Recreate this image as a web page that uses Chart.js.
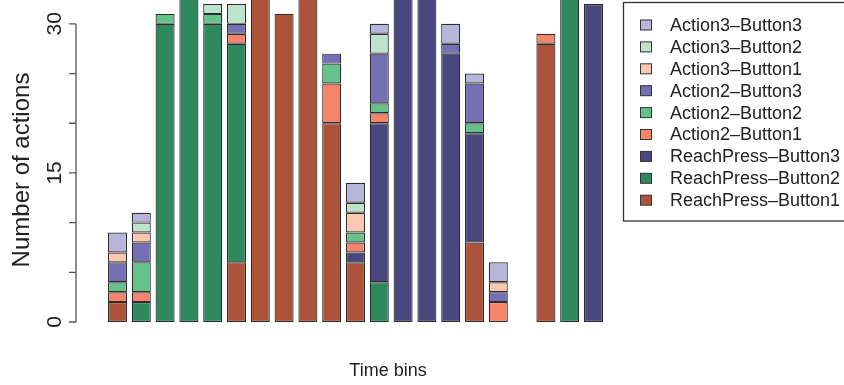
<!DOCTYPE html>
<html>
<head>
<meta charset="utf-8">
<title>Actions per time bin</title>
<script src="https://cdn.jsdelivr.net/npm/chart.js@4.4.1/dist/chart.umd.min.js"></script>
<style>
  html, body { margin: 0; padding: 0; background: #fff; }
  #wrap { width: 844px; height: 385px; position: relative; }
</style>
</head>
<body>
<div id="wrap"><canvas id="chart" width="844" height="385"></canvas></div>
<script>
"use strict";

// Time bins (bin 18 has no actions at all)
const timeBins = ["1", "2", "3", "4", "5", "6", "7", "8", "9", "10", "11",
  "12", "13", "14", "15", "16", "17", "18", "19", "20", "21"];

// counts per bin, stacked bottom -> top
const reachPressB1 = [2, 0, 0, 0, 0, 6, 38, 31, 35, 20, 6, 0, 0, 0, 0, 8, 0, 0, 28, 0, 0];
const reachPressB2 = [0, 2, 30, 36, 30, 22, 0, 0, 0, 0, 0, 4, 0, 0, 0, 0, 0, 0, 0, 36, 0];
const reachPressB3 = [0, 0, 0, 0, 0, 0, 0, 0, 0, 0, 1, 16, 37, 34, 27, 11, 0, 0, 0, 0, 32];
const action2B1 = [1, 1, 0, 0, 0, 1, 0, 0, 0, 4, 1, 1, 0, 0, 0, 0, 2, 0, 1, 0, 0];
const action2B2 = [1, 3, 1, 0, 1, 0, 0, 0, 0, 2, 1, 1, 0, 0, 0, 1, 0, 0, 0, 0, 0];
const action2B3 = [2, 2, 0, 0, 0, 1, 0, 0, 0, 1, 0, 5, 0, 0, 1, 4, 1, 0, 0, 0, 0];
const action3B1 = [1, 1, 0, 0, 0, 0, 0, 0, 0, 0, 2, 0, 0, 0, 0, 0, 1, 0, 0, 0, 0];
const action3B2 = [0, 1, 0, 0, 1, 2, 0, 0, 0, 0, 1, 2, 0, 0, 0, 0, 0, 0, 0, 0, 0];
const action3B3 = [2, 1, 0, 0, 0, 0, 0, 0, 0, 0, 2, 1, 0, 0, 2, 1, 2, 0, 0, 0, 0];

const seriesNames = [
  "ReachPress–Button1", "ReachPress–Button2", "ReachPress–Button3",
  "Action2–Button1", "Action2–Button2", "Action2–Button3",
  "Action3–Button1", "Action3–Button2", "Action3–Button3",
];
const seriesValues = [reachPressB1, reachPressB2, reachPressB3,
  action2B1, action2B2, action2B3, action3B1, action3B2, action3B3];

const yTicks = [0, 5, 10, 15, 20, 25, 30];
const yTickLabels = ["0", "", "", "15", "", "", "30"];

const COLORS = ["#AD533C", "#2E8A5E", "#4A477F", "#F5846A", "#64C28B",
  "#7570B3", "#FDC6B0", "#BEE3CC", "#B8B5DA"];
const FONT = '"Liberation Sans", Arial, Helvetica, sans-serif';
const INK = "#222";

function drawRotated(ctx, text, x, y, size) {
  ctx.save();
  ctx.translate(x, y);
  ctx.rotate(-Math.PI / 2);
  ctx.font = `${size}px ${FONT}`;
  ctx.textAlign = "center";
  ctx.textBaseline = "middle";
  ctx.fillText(text, 0, 0);
  ctx.restore();
}

// R-style axis: line only spans the tick range
const axisPlugin = {
  id: "rAxis",
  afterDraw(chart) {
    const { ctx, scales: { y } } = chart;
    const axisX = 76;
    ctx.save();
    ctx.strokeStyle = "#555";
    ctx.lineWidth = 1.3;
    ctx.beginPath();
    ctx.moveTo(axisX, y.getPixelForValue(yTicks[0]));
    ctx.lineTo(axisX, y.getPixelForValue(yTicks[yTicks.length - 1]));
    yTicks.forEach((t) => {
      const py = y.getPixelForValue(t);
      ctx.moveTo(axisX, py);
      ctx.lineTo(axisX - 7, py);
    });
    ctx.stroke();
    ctx.fillStyle = INK;
    yTicks.forEach((t, i) => {
      if (yTickLabels[i]) drawRotated(ctx, yTickLabels[i], 55.5, y.getPixelForValue(t), 21);
    });
    drawRotated(ctx, "Number of actions", 22.5, 170, 24);
    ctx.font = `18px ${FONT}`;
    ctx.textAlign = "center";
    ctx.textBaseline = "middle";
    ctx.fillText("Time bins", 388, 371);
    ctx.restore();
  },
};

// boxed legend, top entry = top of the stack
const legendPlugin = {
  id: "rLegend",
  afterDraw(chart) {
    const { ctx } = chart;
    const sets = chart.data.datasets.slice().reverse();
    ctx.save();
    ctx.strokeStyle = "#333";
    ctx.lineWidth = 1.3;
    ctx.strokeRect(623.5, 2.5, 300, 218.5);
    ctx.font = `18px ${FONT}`;
    ctx.textAlign = "left";
    ctx.textBaseline = "middle";
    sets.forEach((ds, i) => {
      const cy = 25 + i * 21.9;
      ctx.fillStyle = ds.backgroundColor;
      ctx.fillRect(640.5, cy - 5, 11, 10);
      ctx.strokeStyle = "#333";
      ctx.lineWidth = 1;
      ctx.strokeRect(640.5, cy - 5, 11, 10);
      ctx.fillStyle = INK;
      ctx.fillText(ds.label, 670, cy + 1);
    });
    ctx.restore();
  },
};

const datasets = seriesNames.map((name, i) => ({
  label: name,
  data: seriesValues[i].map((v) => (v === 0 ? null : v)),
  backgroundColor: COLORS[i],
  borderColor: "#2d2d2d",
  borderWidth: 1.2,
  borderSkipped: false,
  barPercentage: 0.8,
  categoryPercentage: 1,
}));

new Chart(document.getElementById("chart"), {
  type: "bar",
  data: { labels: timeBins, datasets },
  options: {
    responsive: false,
    animation: false,
    devicePixelRatio: 1,
    layout: { padding: { left: 105.6, right: 238.6, top: 0, bottom: 63 } },
    scales: {
      x: { stacked: true, display: false },
      y: { stacked: true, display: false, min: 0, max: 32.4 },
    },
    plugins: { legend: { display: false }, tooltip: { enabled: false } },
  },
  plugins: [axisPlugin, legendPlugin],
});
</script>
</body>
</html>
